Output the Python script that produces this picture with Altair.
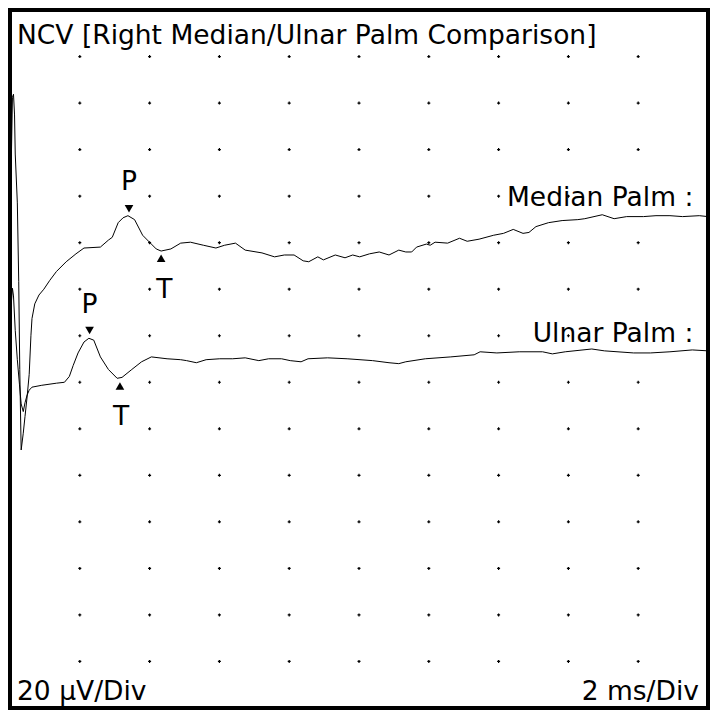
import altair as alt
import numpy as np
import pandas as pd

# ---- data (ms, µV display units; 2 ms/div, 20 µV/div) ----
median_t = [0.00, 0.07, 0.10, 0.13, 0.15, 0.21, 0.25, 0.28, 0.32, 0.38, 0.43, 0.49, 0.55, 0.60, 0.63,
            0.71, 0.83, 0.97, 1.14, 1.33, 1.61, 1.89, 2.12, 2.59, 2.82, 2.93, 3.10, 3.24, 3.38, 3.57,
            3.80, 4.05, 4.19, 4.33, 4.61, 4.89, 5.17, 5.54, 5.90, 6.15, 6.46, 6.74, 7.22, 7.58, 7.86,
            8.14, 8.40, 8.56, 8.82, 8.98, 9.32, 9.60, 9.82, 10.02, 10.30, 10.58, 10.86, 11.14, 11.34,
            11.51, 11.65, 11.93, 12.04, 12.18, 12.54, 12.88, 13.10, 13.44, 13.86, 14.14, 14.42, 14.70,
            14.87, 15.07, 15.43, 15.82, 16.27, 16.47, 16.97, 17.31, 17.67, 18.15, 18.51, 18.91, 19.27,
            19.75, 20.00]
median_v = [204.4, 262.5, 263.8, 254.9, 238.1, 217.1, 183.4, 145.5, 110.9, 118.1, 125.3, 133.7, 143.4,
            160.2, 167.4, 173.7, 177.5, 180.0, 183.8, 187.6, 191.8, 195.2, 197.7, 198.1, 201.1, 202.3,
            208.6, 210.7, 211.6, 209.9, 203.2, 199.4, 197.3, 196.4, 197.3, 199.8, 200.2, 198.9, 197.7,
            198.9, 199.8, 196.8, 195.6, 193.9, 194.7, 194.7, 192.2, 191.8, 193.9, 192.6, 194.7, 193.5,
            194.7, 193.9, 195.2, 196.0, 194.7, 196.8, 196.0, 196.0, 198.1, 199.4, 198.9, 200.2, 199.8,
            201.9, 200.6, 201.5, 203.2, 204.0, 205.7, 204.0, 204.4, 206.9, 208.6, 209.5, 209.9, 210.3,
            212.0, 210.3, 211.2, 211.2, 211.6, 211.6, 211.2, 211.6, 211.2]

ulnar_t = [0.00, 0.07, 0.10, 0.15, 0.21, 0.27, 0.32, 0.38, 0.43, 0.49, 0.55, 0.63, 0.91, 1.33, 1.56,
           1.70, 1.81, 1.95, 2.12, 2.26, 2.40, 2.59, 2.82, 3.07, 3.21, 3.49, 3.77, 4.05, 4.50, 4.89,
           5.06, 5.34, 5.62, 6.01, 6.38, 6.74, 7.13, 7.41, 7.78, 8.03, 8.34, 8.54, 9.10, 9.66, 10.39,
           10.86, 11.14, 11.34, 11.90, 12.63, 13.30, 13.47, 13.95, 14.59, 15.26, 15.54, 15.91, 16.67,
           17.03, 17.87, 18.35, 18.91, 19.55, 20.00]
ulnar_v = [166.5, 180.4, 177.1, 162.3, 149.7, 139.2, 130.7, 127.4, 131.2, 134.5, 136.6, 137.9, 138.7,
           139.6, 140.0, 142.5, 147.2, 152.6, 157.3, 158.9, 158.1, 150.9, 145.5, 141.7, 142.1, 145.5,
           148.8, 150.9, 150.1, 149.7, 149.3, 148.4, 149.7, 150.1, 150.1, 150.5, 149.3, 150.1, 150.1,
           149.3, 148.8, 150.1, 150.5, 150.1, 149.3, 148.4, 148.0, 148.8, 150.1, 150.9, 151.8, 153.1,
           152.6, 153.1, 153.1, 152.2, 153.1, 154.3, 153.5, 152.6, 152.6, 153.1, 153.9, 153.5]

# peak / trough markers (latency ms, amplitude µV)
peak_t = [3.41, 2.28]
peak_v = [214.6, 162.2]
trough_t = [4.33, 3.15]
trough_v = [193.3, 138.4]
peak_lab_v = [222.5, 169.9]
trough_lab_t = [4.42, 3.18]
trough_lab_v = [176.2, 121.5]

trace_names = ["Median Palm :", "Ulnar Palm :"]
trace_lab_v = [215.8, 157.3]

title_text = "NCV [Right Median/Ulnar Palm Comparison]"
y_div_text = "20 µV/Div"
x_div_text = "2 ms/Div"

FONT = "DejaVu Sans"
FS = 26.5

xs = alt.Scale(domain=[0, 20], nice=False, zero=False)
ys = alt.Scale(domain=[0, 300], nice=False, zero=False)

traces = pd.concat([
    pd.DataFrame({"t": median_t, "v": median_v, "trace": "Median", "i": range(len(median_t))}),
    pd.DataFrame({"t": ulnar_t, "v": ulnar_v, "trace": "Ulnar", "i": range(len(ulnar_t))}),
])

gt, gv = np.meshgrid(np.arange(0, 21, 2), np.arange(0, 301, 20))
grid = pd.DataFrame({"t": gt.ravel(), "v": gv.ravel()})

X = lambda: alt.X("t:Q", scale=xs, axis=None)
Y = lambda: alt.Y("v:Q", scale=ys, axis=None)

grid_layer = alt.Chart(grid).mark_point(shape="cross", filled=True, size=9, color="black", opacity=1).encode(x=X(), y=Y())

line_layer = alt.Chart(traces).mark_line(color="black", strokeWidth=1, clip=True).encode(
    x=X(), y=Y(), detail="trace:N", order="i:Q")

peaks = pd.DataFrame({"t": peak_t, "v": peak_v, "lv": peak_lab_v})
troughs = pd.DataFrame({"t": trough_t, "v": trough_v, "lt": trough_lab_t, "lv": trough_lab_v})

peak_mk = alt.Chart(peaks).mark_point(shape="triangle-down", filled=True, size=75, color="black", opacity=1).encode(x=X(), y=Y())
trough_mk = alt.Chart(troughs).mark_point(shape="triangle-up", filled=True, size=75, color="black", opacity=1).encode(x=X(), y=Y())
peak_txt = alt.Chart(peaks).mark_text(text="P", font=FONT, fontSize=FS, baseline="alphabetic", align="center", color="black").encode(
    x=X(), y=alt.Y("lv:Q", scale=ys, axis=None))
trough_txt = alt.Chart(troughs).mark_text(text="T", font=FONT, fontSize=FS, baseline="alphabetic", align="center", color="black").encode(
    x=alt.X("lt:Q", scale=xs, axis=None), y=alt.Y("lv:Q", scale=ys, axis=None))

names = pd.DataFrame({"name": trace_names, "v": trace_lab_v, "t": [19.58, 19.58]})
name_txt = alt.Chart(names).mark_text(font=FONT, fontSize=FS, baseline="alphabetic", align="right", color="black").encode(
    x=X(), y=Y(), text="name:N")

title_txt = alt.Chart(pd.DataFrame({"s": [title_text]})).mark_text(
    font=FONT, fontSize=FS, baseline="alphabetic", align="left", color="black").encode(
    x=alt.value(7), y=alt.value(34), text="s:N")
ydiv_txt = alt.Chart(pd.DataFrame({"s": [y_div_text]})).mark_text(
    font=FONT, fontSize=FS, baseline="alphabetic", align="left", color="black").encode(
    x=alt.value(7), y=alt.value(690), text="s:N")
xdiv_txt = alt.Chart(pd.DataFrame({"s": [x_div_text]})).mark_text(
    font=FONT, fontSize=FS, baseline="alphabetic", align="right", color="black").encode(
    x=alt.value(689), y=alt.value(690), text="s:N")

chart = alt.layer(
    grid_layer, line_layer, peak_mk, trough_mk, peak_txt, trough_txt, name_txt,
    title_txt, ydiv_txt, xdiv_txt
).properties(
    width=698, height=698, padding=2,
    autosize=alt.AutoSizeParams(type="none"),
    background="white",
).configure_view(stroke="black", strokeWidth=4)

chart.save("out.html", embed_options={"renderer": "svg", "actions": False})
